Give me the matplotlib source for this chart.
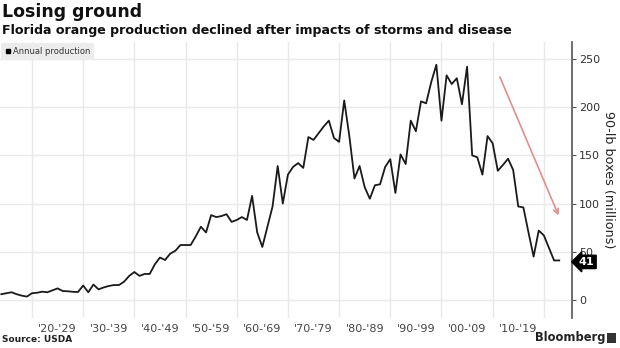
import matplotlib
matplotlib.use("Agg")
import matplotlib.pyplot as plt
from matplotlib.lines import Line2D
from matplotlib.patches import FancyBboxPatch
import matplotlib.transforms as mtransforms

# Florida orange production, million 90-lb boxes
years = list(range(1914, 2024))
production = [
    6, 7, 8, 6, 4.5, 3.5,                                  # 1914-1919
    7, 7.5, 8.6, 8, 10, 12, 9.3, 9, 8.5, 8.3,               # 1920s
    15, 8, 16, 11, 13, 14.5, 15.5, 15.5, 19, 25,            # 1930s
    29, 25, 27, 27, 37, 44, 41.5, 48, 51, 57,               # 1940s
    57, 57, 66, 76, 70, 88, 86, 87, 89, 81,                 # 1950s
    83, 86, 83, 108, 70, 55, 76, 97, 139, 100,              # 1960s
    130, 138, 142, 137, 169, 166, 173, 180, 186, 168,       # 1970s
    164, 207, 170, 126, 139, 117, 105, 119, 120, 138,       # 1980s
    146, 111, 151, 141, 186, 175, 206, 204, 226, 244,       # 1990s
    186, 233, 224, 230, 203, 242, 150, 148, 130, 170,       # 2000s
    162.5, 134, 140, 146.5, 135, 97, 96, 70, 45, 72,        # 2010s
    67, 54, 41, 41,                                         # 2020s
]
decade_starts = list(range(1920, 2030, 10))
decade_labels = ["'20-'29", "'30-'39", "'40-'49", "'50-'59", "'60-'69",
                 "'70-'79", "'80-'89", "'90-'99", "'00-'09", "'10-'19"]
y_ticks = [0, 50, 100, 150, 200, 250]
latest = production[-1]

fig = plt.figure(figsize=(6.2, 3.48), dpi=100)
ax = fig.add_axes([0.0, 30 / 348, 572 / 620, 276 / 348])

ax.plot(years, production, color="#1a1a1a", lw=1.3, zorder=3)

ax.set_xlim(1913.75, 2025.5)
ax.set_ylim(-18.7, 267.6)

# decade gridlines, labels sit in the middle of each decade
ax.set_xticks(decade_starts)
ax.set_xticklabels([])
ax.set_xticks([d + 5 for d in decade_starts[:-1]], minor=True)
ax.set_xticklabels(decade_labels, minor=True)
ax.tick_params(axis="x", which="both", length=0, labelsize=8, colors="#444444", pad=4)

ax.yaxis.tick_right()
ax.yaxis.set_label_position("right")
ax.set_yticks(y_ticks)
ax.tick_params(axis="y", length=3, width=0.8, color="#555555", labelsize=8,
               labelcolor="#333333", pad=2)
ax.set_ylabel("90-lb boxes (millions)", rotation=270, fontsize=9.2,
              color="#222222", labelpad=11)

ax.grid(True, which="major", color="#e9e9e9", lw=1, zorder=0)
for side in ["top", "left", "bottom"]:
    ax.spines[side].set_visible(False)
ax.spines["right"].set_color("#555555")
ax.spines["right"].set_linewidth(1.2)

# trend arrow
ax.annotate("", xy=(2023.1, 85), xytext=(2011.2, 234),
            arrowprops=dict(arrowstyle="->", color="#e0908a", lw=1.2,
                            mutation_scale=9), zorder=4)

# latest value flag on the axis
flag = mtransforms.blended_transform_factory(ax.transAxes, ax.transData)
ax.text(1.012, latest - 1.5, f"{latest:g}", transform=flag, color="white",
        fontsize=8, fontweight="bold", va="center", ha="left",
        bbox=dict(boxstyle="larrow,pad=0.15", fc="black", ec="black"),
        clip_on=False, zorder=5)

leg = ax.legend(handles=[Line2D([], [], marker="s", color="black", ls="none",
                                markersize=3.5)],
                labels=["Annual production"], loc="upper left",
                bbox_to_anchor=(0.0, 1.0), fontsize=6, frameon=True,
                fancybox=False, handletextpad=0.1, borderpad=0.5,
                handlelength=0.8, borderaxespad=0.1, labelcolor="#333333")
leg.get_frame().set_facecolor("#ececec")
leg.get_frame().set_edgecolor("none")
leg.get_frame().set_alpha(1)

fig.text(0.003, 1 - 3 / 348, "Losing ground", fontsize=12.5,
         fontweight="bold", va="top", ha="left", color="#111111")
fig.text(0.003, 1 - 24 / 348,
         "Florida orange production declined after impacts of storms and disease",
         fontsize=9.1, fontweight="bold", va="top", ha="left", color="#111111")
fig.text(0.004, 1 - 340 / 348, "Source: USDA", fontsize=6.5,
         fontweight="bold", va="center", ha="left", color="#222222")
fig.text(0.976, 1 - 338 / 348, "Bloomberg", fontsize=8.3, fontweight="bold",
         va="center", ha="right", color="#222222")
fig.patches.append(FancyBboxPatch((607 / 620, 1 - 343 / 348), 9 / 620, 10 / 348,
                                  boxstyle="square,pad=0", fc="#333333",
                                  ec="none", transform=fig.transFigure))

fig.savefig("out.png", dpi=100)
